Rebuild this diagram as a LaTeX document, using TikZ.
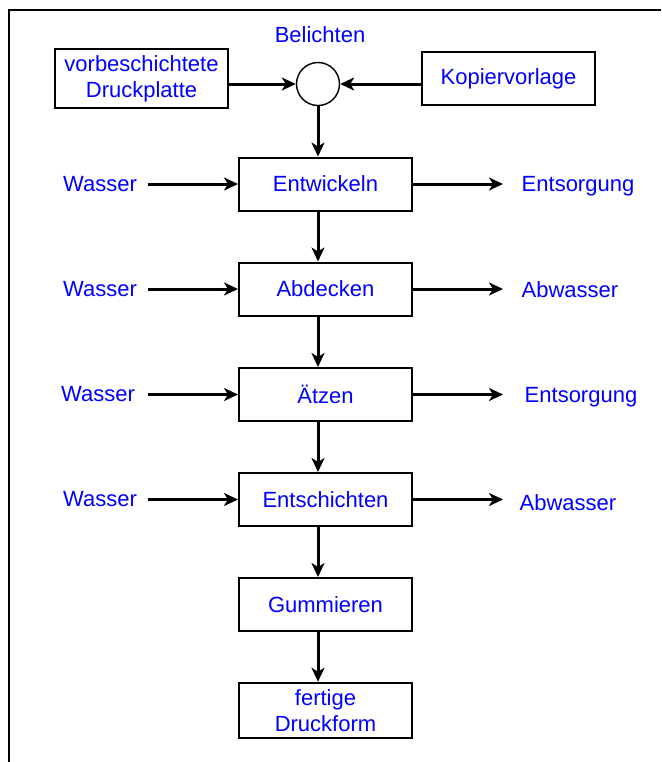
\documentclass[tikz,border=0pt]{standalone}
\usepackage{fontspec}
\setmainfont{Liberation Sans}
\usetikzlibrary{arrows.meta}
\begin{document}
\begin{tikzpicture}[>={Stealth[length=7pt, width=6.5pt, inset=2pt]}, x=0.5pt, y=-0.5pt,
  every node/.style={text=blue, font=\fontsize{11}{13}\selectfont},
  stage/.style={draw, line width=1pt, minimum width=86.5pt, minimum height=26.5pt, align=center},
  flow/.style={->, line width=1.5pt}]
\useasboundingbox (0,0) rectangle (661,762);
\draw[line width=1pt] (9,762) -- (9,10) -- (661,10);
% Belichten
\node (belichtlabel) at (320,35) {Belichten};
\node[draw, circle, line width=0.7pt, minimum size=21.5pt, inner sep=0pt] (belicht) at (318,84) {};
\node[stage] (platte) at (141.5,78.5) {vorbeschichtete\\Druckplatte};
\node[stage] (vorlage) at (508.5,78.5) {Kopiervorlage};
\draw[flow] (platte.east |- belicht) -- (belicht);
\draw[flow] (vorlage.west |- belicht) -- (belicht);
% stages
\node[stage] (entw) at (325.5,184) {Entwickeln};
\node[stage] (abdeck) at (325.5,289) {Abdecken};
\node[stage] (aetz) at (325.5,394.5) {Ätzen};
\node[stage] (entsch) at (325.5,499.5) {Entschichten};
\node[stage] (gumm) at (325.5,604.5) {Gummieren};
\node[stage] (druckform) at (325.5,710.5) {fertige\\Druckform};
\draw[flow] (belicht) -- (entw.north -| belicht);
\draw[flow] (entw.south -| belicht) -- (abdeck.north -| belicht);
\draw[flow] (abdeck.south -| belicht) -- (aetz.north -| belicht);
\draw[flow] (aetz.south -| belicht) -- (entsch.north -| belicht);
\draw[flow] (entsch.south -| belicht) -- (gumm.north -| belicht);
\draw[flow] (gumm.south -| belicht) -- (druckform.north -| belicht);
% inputs and outputs
\node (wasser1) at (100,184) {Wasser};
\node (wasser2) at (100,289) {Wasser};
\node (wasser3) at (98,394.5) {Wasser};
\node (wasser4) at (100,499.5) {Wasser};
\node (aus1) at (578,186) {Entsorgung};
\node (aus2) at (570,290) {Abwasser};
\node (aus3) at (581,397) {Entsorgung};
\node (aus4) at (568,503) {Abwasser};
\draw[flow, shorten <=2pt] (wasser1.east) -- (entw.west);
\draw[flow, shorten <=2pt] (wasser2.east) -- (abdeck.west);
\draw[flow, shorten <=3pt] (wasser3.east) -- (aetz.west);
\draw[flow, shorten <=2pt] (wasser4.east) -- (entsch.west);
\draw[flow] (entw.east) -- (503,184);
\draw[flow] (abdeck.east) -- (503,289);
\draw[flow] (aetz.east) -- (503,394.5);
\draw[flow] (entsch.east) -- (503,499.5);
\end{tikzpicture}
\end{document}
